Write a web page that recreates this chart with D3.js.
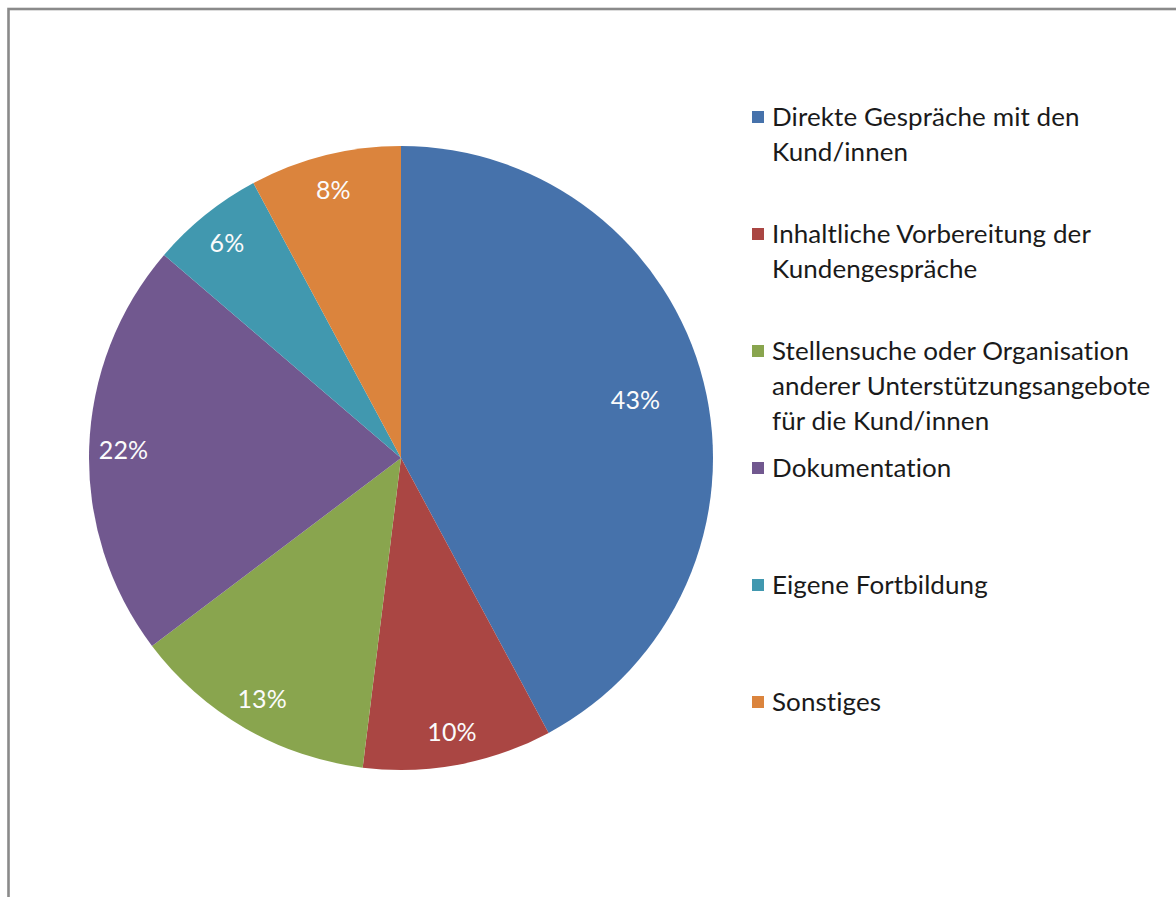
<!DOCTYPE html>
<html>
<head>
<meta charset="utf-8">
<script src="https://cdn.jsdelivr.net/npm/d3@7"></script>
<style>
  html, body { margin: 0; padding: 0; background: #fff; }
  svg { display: block; }
  text { font-variant-ligatures: none; font-feature-settings: "liga" 0, "clig" 0, "dlig" 0; letter-spacing: 0.1px; }
</style>
</head>
<body>
<svg id="chart" width="1176" height="897"></svg>
<script>
// Time shares of activities (percent)
const categories = [
  "Direkte Gespräche mit den Kund/innen",
  "Inhaltliche Vorbereitung der Kundengespräche",
  "Stellensuche oder Organisation anderer Unterstützungsangebote für die Kund/innen",
  "Dokumentation",
  "Eigene Fortbildung",
  "Sonstiges"
];
const values = [43, 10, 13, 22, 6, 8];
// Legend text broken into lines
const legendLines = [
  ["Direkte Gespräche mit den", "Kund/innen"],
  ["Inhaltliche Vorbereitung der", "Kundengespräche"],
  ["Stellensuche oder Organisation", "anderer Unterstützungsangebote", "für die Kund/innen"],
  ["Dokumentation"],
  ["Eigene Fortbildung"],
  ["Sonstiges"]
];
const colors = ["#4672AB", "#AA4643", "#89A54E", "#71588F", "#4198AF", "#DB843D"];

const FONT = "Lato, 'Open Sans', 'Noto Sans', sans-serif";
const svg = d3.select("#chart");

// Outer frame
svg.append("rect")
  .attr("x", 8.5).attr("y", 9)
  .attr("width", 1300).attr("height", 1100)
  .attr("fill", "#fff")
  .attr("stroke", "#8a8a8a").attr("stroke-width", 2.6);

const cx = 401, cy = 458, R = 312;

const pie = d3.pie().sort(null).value(d => d);
const arcs = pie(values);
const arc = d3.arc().innerRadius(0).outerRadius(R);

const g = svg.append("g").attr("transform", `translate(${cx},${cy})`);

g.selectAll("path.slice")
  .data(arcs)
  .join("path")
  .attr("class", "slice")
  .attr("d", arc)
  .attr("fill", (d, i) => colors[i]);

// Percentage labels near the outer edge; wide slices get them pulled inward
g.selectAll("text.pct")
  .data(arcs)
  .join("text")
  .attr("class", "pct")
  .attr("transform", d => {
    const a = (d.startAngle + d.endAngle) / 2;
    const r = (d.endAngle - d.startAngle) > Math.PI / 2 ? R * 0.775 : R * 0.89;
    return `translate(${r * Math.sin(a)},${-r * Math.cos(a)})`;
  })
  .attr("text-anchor", "middle")
  .attr("dominant-baseline", "central")
  .attr("font-family", FONT)
  .attr("font-size", 25)
  .attr("fill", "#fbfbfb")
  .text(d => d.data + "%");

// Legend
const legend = svg.append("g").attr("transform", "translate(752,0)");
const rowTop = 116, rowStep = 117, lineH = 35;

// Fit the legend font so the first line spans the measured width
const probe = legend.append("text")
  .attr("font-family", FONT).attr("font-size", 100)
  .text(legendLines[0][0]);
const w100 = probe.node().getComputedTextLength();
probe.remove();
const legendFont = Math.min(26, 100 * 306 / w100);

legendLines.forEach((lines, i) => {
  const y = rowTop + i * rowStep;
  legend.append("rect")
    .attr("x", 0).attr("y", y - 5)
    .attr("width", 12).attr("height", 12)
    .attr("fill", colors[i]);
  const t = legend.append("text")
    .attr("x", 20).attr("y", y)
    .attr("font-family", FONT)
    .attr("font-size", legendFont)
    .attr("fill", "#1a1a1a");
  lines.forEach((ln, j) => {
    t.append("tspan")
      .attr("x", 20)
      .attr("y", y + j * lineH)
      .attr("dominant-baseline", "central")
      .text(ln);
  });
});
</script>
</body>
</html>
